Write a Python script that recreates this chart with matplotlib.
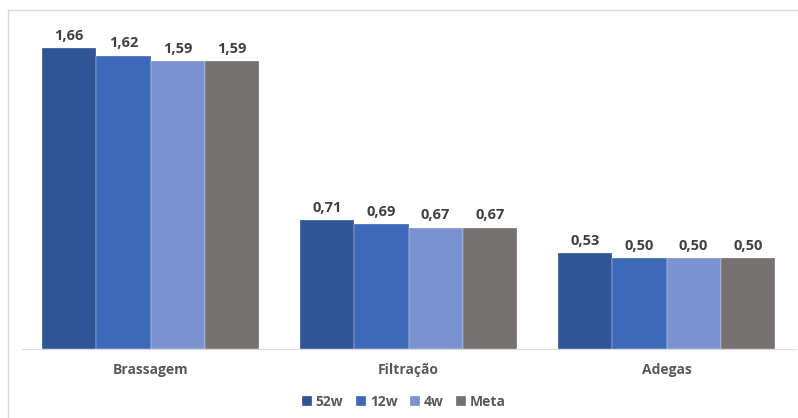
import matplotlib.pyplot as plt
import numpy as np
from matplotlib.patches import Rectangle

# Dados
categorias = ['Brassagem', 'Filtração', 'Adegas']
series = ['52w', '12w', '4w', 'Meta']
v_52w = [1.66, 0.71, 0.53]
v_12w = [1.62, 0.69, 0.50]
v_4w = [1.59, 0.67, 0.50]
v_meta = [1.59, 0.67, 0.50]
valores = [v_52w, v_12w, v_4w, v_meta]
cores = ['#2F5597', '#3D6AB8', '#7A93D0', '#767171']

plt.rcParams['font.family'] = ['Open Sans', 'DejaVu Sans']

W, H = 798, 418
fig = plt.figure(figsize=(W / 100, H / 100), dpi=100)

# moldura do gráfico (estilo Excel)
fig.patches.append(Rectangle((8 / W, -0.1), 1.2, (H - 10) / H + 0.1,
                             transform=fig.transFigure, fill=False,
                             edgecolor='#D9D9D9', linewidth=1))

ax = fig.add_axes([21.5 / W, (H - 349) / H, 774 / W, 326 / H])

x = np.arange(len(categorias))
largura = 0.2103
for i, (nome, vals) in enumerate(zip(series, valores)):
    pos = x + (i - 1.5) * largura
    barras = ax.bar(pos, vals, largura, color=cores[i], label=nome,
                    edgecolor='white', linewidth=0.2)
    for b, v in zip(barras, vals):
        ax.text(b.get_x() + b.get_width() / 2, v + 0.03,
                f'{v:.2f}'.replace('.', ','), ha='center', va='bottom',
                fontsize=10.5, fontweight='bold', color='#404040')

ax.set_xlim(-0.5, 2.5)
ax.set_ylim(0, 1.8)
ax.set_yticks([])
ax.set_xticks(x)
ax.set_xticklabels(categorias, fontsize=10, fontweight='bold', color='#595959')
ax.tick_params(axis='x', length=0, pad=10)
for s in ['top', 'right', 'left']:
    ax.spines[s].set_visible(False)
ax.spines['bottom'].set_color('#D9D9D9')

leg = fig.legend(loc='center', bbox_to_anchor=(404 / W, (H - 402) / H), ncol=4,
                 frameon=False, handlelength=0.7, handleheight=0.7,
                 handletextpad=0.3, columnspacing=0.9,
                 prop={'size': 10, 'weight': 'bold'})
for t in leg.get_texts():
    t.set_color('#595959')

fig.savefig('out.png', dpi=100)
